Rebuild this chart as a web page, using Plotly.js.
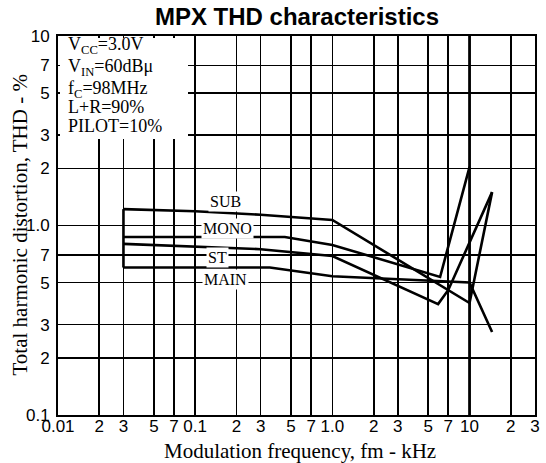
<!DOCTYPE html>
<html>
<head>
<meta charset="utf-8">
<script src="https://cdn.plot.ly/plotly-3.0.1.min.js"></script>
<style>
  html, body { margin: 0; padding: 0; background: #fff; }
  #chart { width: 546px; height: 463px; }
</style>
</head>
<body>
<div id="chart"></div>
<script>
// ---- Data ----
const subX  = [0.03, 0.1, 0.3, 1.0, 10, 14.6];
const subY  = [1.22, 1.19, 1.14, 1.07, 0.39, 1.5];

const monoX = [0.03, 0.45, 1.0, 6.1, 10];
const monoY = [0.87, 0.87, 0.79, 0.535, 2.04];

const stX   = [0.03, 0.3, 1.0, 5.9, 7.0, 14.6];
const stY   = [0.80, 0.75, 0.69, 0.385, 0.457, 1.5];

const mainX = [0.03, 0.35, 1.0, 10, 14.6];
const mainY = [0.60, 0.60, 0.54, 0.50, 0.274];

const xTickVals = [0.01,0.02,0.03,0.05,0.07,0.1,0.2,0.3,0.5,0.7,1,2,3,5,7,10,20,30];
const xTickText = ["0.01","2","3","5","7","0.1","2","3","5","7","1.0","2","3","5","7","10","2","3"];
const yTickVals = [0.1,0.2,0.3,0.5,0.7,1,2,3,5,7,10];
const yTickText = ["0.1","2","3","5","7","1.0","2","3","5","7","10"];

const seriesNames = ["SUB", "MONO", "ST", "MAIN"];
const conditions = ["V<sub>CC</sub>=3.0V", "V<sub>IN</sub>=60dBμ", "f<sub>C</sub>=98MHz", "L+R=90%", "PILOT=10%"];

// ---- Plot ----
const lineStyle = {color: '#000', width: 2.6};
const traces = [
  {x: subX,  y: subY,  mode: 'lines', line: lineStyle, name: seriesNames[0]},
  {x: monoX, y: monoY, mode: 'lines', line: lineStyle, name: seriesNames[1]},
  {x: stX,   y: stY,   mode: 'lines', line: lineStyle, name: seriesNames[2]},
  {x: mainX, y: mainY, mode: 'lines', line: lineStyle, name: seriesNames[3]},
  // start bracket joining the curve starts
  {x: [subX[0], mainX[0]], y: [subY[0], mainY[0]], mode: 'lines', line: lineStyle, name: 'start'}
];

const L = 58, R = 535, T = 36, B = 415;
const px = v => (v - L) / (R - L);
const py = v => (B - v) / (B - T);

const serif = 'Liberation Serif, Times New Roman, serif';
const sans = 'Liberation Sans, Arial, sans-serif';

const annotations = [];
const condY = [45, 68, 89, 107, 126];
conditions.forEach((t, i) => {
  annotations.push({text: t, xref: 'paper', yref: 'paper', x: px(66), y: py(condY[i]),
    xanchor: 'left', yanchor: 'middle', showarrow: false,
    font: {family: serif, size: 18, color: '#000'}});
});
const labPos = [[225, 201], [227, 228], [217, 257], [225, 279]];
seriesNames.forEach((t, i) => {
  annotations.push({text: t, xref: 'paper', yref: 'paper', x: px(labPos[i][0]), y: py(labPos[i][1]),
    xanchor: 'center', yanchor: 'middle', showarrow: false, bgcolor: '#fff', borderpad: 1,
    font: {family: serif, size: 16, color: '#000'}});
});
annotations.push({text: 'Modulation frequency, fm - kHz', xref: 'paper', yref: 'paper',
  x: px(300), y: py(451), xanchor: 'center', yanchor: 'middle', showarrow: false,
  font: {family: serif, size: 21, color: '#000'}});
annotations.push({text: 'Total harmonic distortion, THD - %', xref: 'paper', yref: 'paper',
  x: px(19), y: 0.5, xanchor: 'center', yanchor: 'middle', textangle: -90, showarrow: false,
  font: {family: serif, size: 21, color: '#000'}});

const layout = {
  width: 546, height: 463,
  margin: {l: L, r: 546 - R, t: T, b: 463 - B, pad: 0},
  paper_bgcolor: '#fff', plot_bgcolor: '#fff',
  showlegend: false,
  title: {text: '<b>MPX THD characteristics</b>', x: px(297), xref: 'paper', xanchor: 'center',
          y: 1 - 17 / 463, yref: 'container', yanchor: 'middle',
          font: {family: sans, size: 24, color: '#000'}},
  xaxis: {type: 'log', range: [-2, Math.log10(30)], tickmode: 'array',
          tickvals: xTickVals, ticktext: xTickText, ticks: '', ticklabelstandoff: -5,
          showgrid: true, gridcolor: '#000', gridwidth: 1.7, zeroline: false,
          showline: true, mirror: true, linecolor: '#000', linewidth: 2,
          tickfont: {family: sans, size: 17, color: '#000'}, fixedrange: true},
  yaxis: {type: 'log', range: [-1, 1], tickmode: 'array',
          tickvals: yTickVals, ticktext: yTickText, ticks: '', ticklabelstandoff: 3,
          showgrid: true, gridcolor: '#000', gridwidth: 1.7, zeroline: false,
          showline: true, mirror: true, linecolor: '#000', linewidth: 2,
          tickfont: {family: sans, size: 17, color: '#000'}, fixedrange: true},
  shapes: [
    {type: 'rect', xref: 'paper', yref: 'paper', x0: px(60), x1: px(188), y0: py(139), y1: py(38),
     fillcolor: '#fff', line: {width: 0}, layer: 'above'},
    {type: 'line', xref: 'x', yref: 'paper', x0: 10, x1: 10, y0: 0, y1: 1,
     line: {color: '#000', width: 2.8}, layer: 'between'}
  ],
  annotations: annotations
};

Plotly.newPlot('chart', traces, layout, {staticPlot: true, displayModeBar: false});
</script>
</body>
</html>
